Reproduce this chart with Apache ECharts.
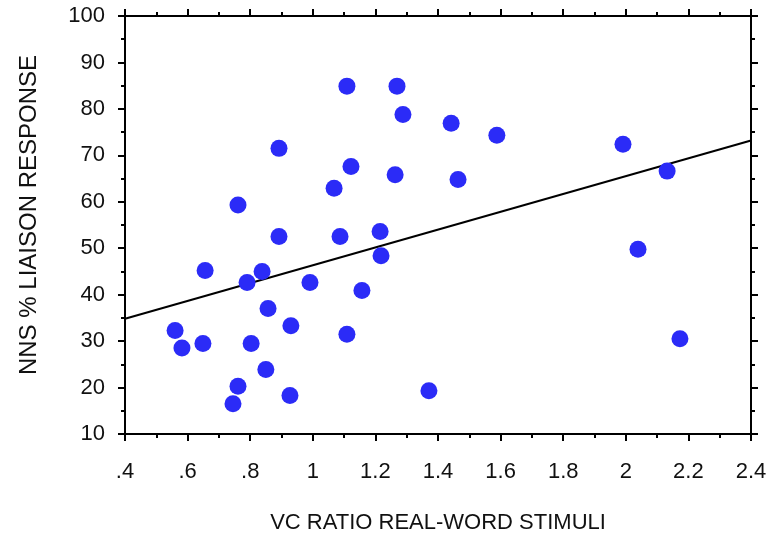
<!DOCTYPE html>
<html>
<head>
<meta charset="utf-8">
<script src="https://cdn.jsdelivr.net/npm/echarts@6/dist/echarts.min.js"></script>
<style>
  html, body { margin: 0; padding: 0; background: #fff; }
  #main { width: 771px; height: 538px; }
</style>
</head>
<body>
<div id="main"></div>
<script>
// VC ratio (real-word stimuli) per item
var vcRatio = [1.109, 1.269, 1.288, 0.892, 1.442, 1.588, 1.991, 1.122, 1.263, 1.464,
               1.068, 2.132, 0.761, 0.892, 1.087, 1.215, 1.218, 2.039, 0.656, 0.838,
               0.790, 0.991, 1.157, 0.857, 0.930, 1.109, 0.560, 0.582, 0.649, 0.803,
               2.173, 0.850, 0.761, 0.745, 0.927, 1.371];
// NNS % liaison response per item
var liaisonPct = [84.9, 84.9, 78.8, 71.5, 76.9, 74.3, 72.4, 67.6, 65.8, 64.8,
                  62.9, 66.6, 59.3, 52.5, 52.5, 53.6, 48.4, 49.8, 45.2, 45.0,
                  42.6, 42.6, 40.9, 37.0, 33.3, 31.5, 32.3, 28.5, 29.5, 29.5,
                  30.5, 23.9, 20.3, 16.5, 18.3, 19.3];
// fitted line, read at the two ends of the x axis
var fitX = [0.4, 2.4];
var fitY = [34.8, 73.2];

var xTicks = {min: 0.4, max: 2.4, interval: 0.2};
var yTicks = {min: 10, max: 100, interval: 10};

function xLabel(v){
    var s = (Math.round(v * 10) / 10).toString();
    if (s.indexOf('0.') === 0) s = s.substring(1);
    return s;
}

function drawChart(){
    var myChart = echarts.init(document.getElementById('main'));
    var font = 'Liberation Sans, Arial, sans-serif';
    var axisLine = {show: true, onZero: false, lineStyle: {color: '#000', width: 2}};
    var tick = {show: true, inside: false, length: 7, lineStyle: {color: '#000', width: 2}};
    var minor = {show: true, splitNumber: 2, length: 4, lineStyle: {color: '#000', width: 2}};

    var points = [];
    for (var i = 0; i < vcRatio.length; i++) {
        points.push([vcRatio[i], liaisonPct[i]]);
    }
    var fitLine = [];
    for (var j = 0; j < fitX.length; j++) {
        fitLine.push([fitX[j], fitY[j]]);
    }

    var option = {
        animation: false,
        backgroundColor: '#fff',
        grid: {left: 125, right: 20, top: 16, bottom: 104, containLabel: false, outerBoundsMode: 'none'},
        xAxis: [
            {
                type: 'value', position: 'bottom',
                min: xTicks.min, max: xTicks.max, interval: xTicks.interval,
                name: 'VC RATIO REAL-WORD STIMULI',
                nameLocation: 'middle', nameGap: 78,
                nameTextStyle: {color: '#111', fontSize: 22, fontFamily: font},
                axisLine: axisLine, axisTick: tick, minorTick: minor,
                splitLine: {show: false},
                axisLabel: {color: '#111', fontSize: 22, fontFamily: font, margin: 27,
                            formatter: xLabel}
            },
            {
                type: 'value', position: 'top',
                min: xTicks.min, max: xTicks.max, interval: xTicks.interval,
                axisLine: axisLine, axisTick: tick, minorTick: minor,
                splitLine: {show: false}, axisLabel: {show: false}
            }
        ],
        yAxis: [
            {
                type: 'value', position: 'left',
                min: yTicks.min, max: yTicks.max, interval: yTicks.interval,
                name: 'NNS % LIAISON RESPONSE',
                nameLocation: 'middle', nameGap: 84,
                nameTextStyle: {color: '#111', fontSize: 24, fontFamily: font,
                                padding: [0, 0, 0, 20]},
                axisLine: axisLine, axisTick: tick, minorTick: minor,
                splitLine: {show: false},
                axisLabel: {color: '#111', fontSize: 22, fontFamily: font, margin: 20}
            },
            {
                type: 'value', position: 'right',
                min: yTicks.min, max: yTicks.max, interval: yTicks.interval,
                axisLine: axisLine, axisTick: tick, minorTick: minor,
                splitLine: {show: false}, axisLabel: {show: false}
            }
        ],
        series: [
            {
                type: 'line',
                data: fitLine,
                symbol: 'none',
                z: 1,
                lineStyle: {color: '#000', width: 2}
            },
            {
                type: 'scatter',
                data: points,
                symbolSize: 17,
                z: 3,
                itemStyle: {color: '#2b2bf7', opacity: 1}
            }
        ]
    };

    myChart.setOption(option);
}

drawChart();
</script>
</body>
</html>
